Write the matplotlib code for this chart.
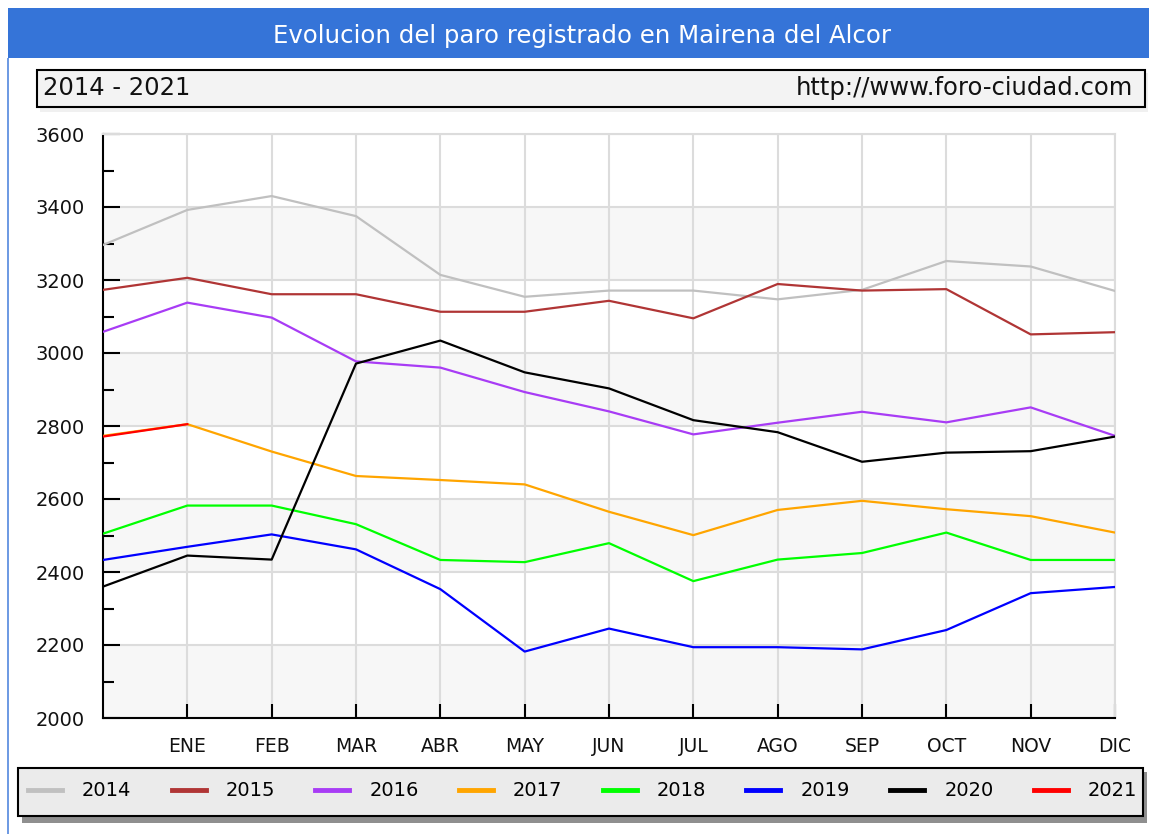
import numpy as np
import matplotlib.pyplot as plt
from matplotlib.patches import Rectangle
from matplotlib.lines import Line2D

# meses (el primer punto es diciembre del año anterior)
months = ['', 'ENE', 'FEB', 'MAR', 'ABR', 'MAY', 'JUN', 'JUL', 'AGO', 'SEP', 'OCT', 'NOV', 'DIC']
years = ['2014', '2015', '2016', '2017', '2018', '2019', '2020', '2021']
colors = ['#c0c0c0', '#b03535', '#a83cf5', '#ffa500', '#00ff00', '#0000ff', '#000000', '#ff0000']

paro_2014 = [3296, 3392, 3430, 3375, 3214, 3154, 3171, 3171, 3147, 3173, 3252, 3237, 3170]
paro_2015 = [3173, 3206, 3161, 3161, 3113, 3113, 3143, 3095, 3189, 3171, 3175, 3051, 3057]
paro_2016 = [3058, 3138, 3097, 2977, 2960, 2893, 2840, 2777, 2809, 2839, 2810, 2851, 2773]
paro_2017 = [2773, 2805, 2730, 2663, 2652, 2640, 2565, 2501, 2570, 2595, 2572, 2553, 2508]
paro_2018 = [2505, 2582, 2582, 2531, 2433, 2427, 2479, 2375, 2434, 2452, 2508, 2433, 2433]
paro_2019 = [2433, 2469, 2503, 2462, 2353, 2182, 2245, 2194, 2194, 2188, 2241, 2342, 2359]
paro_2020 = [2360, 2445, 2434, 2971, 3034, 2947, 2903, 2816, 2783, 2702, 2727, 2731, 2771]
paro_2021 = [2771, 2805]
series = [paro_2014, paro_2015, paro_2016, paro_2017, paro_2018, paro_2019, paro_2020, paro_2021]

W, H = 1149, 834
fig = plt.figure(figsize=(W / 100, H / 100), dpi=100)


def px_box(x0, y0, x1, y1, **kw):
    # rectangulo en pixeles, origen arriba a la izquierda
    r = Rectangle((x0 / W, 1 - y1 / H), (x1 - x0) / W, (y1 - y0) / H,
                  transform=fig.transFigure, **kw)
    fig.add_artist(r)


# cabecera azul
px_box(8, 8, W, 58, facecolor='#3574d8', edgecolor='none')
px_box(7, 58, 9, H, facecolor='#6f9be3', edgecolor='none')
fig.text(582 / W, 1 - 36 / H, 'Evolucion del paro registrado en Mairena del Alcor',
         color='white', fontsize=17.6, ha='center', va='center')

# caja del subtitulo
px_box(40, 73, 1148, 112, facecolor='#f0f0f0', edgecolor='none')
px_box(37, 70, 1145, 107, facecolor='#f3f3f3', edgecolor='black', linewidth=1.5)
fig.text(43 / W, 1 - 88 / H, '2014 - 2021', fontsize=17.5, ha='left', va='center', color='#111111')
fig.text(1133 / W, 1 - 88 / H, 'http://www.foro-ciudad.com', fontsize=17.5, ha='right', va='center',
         color='#111111')

ax = fig.add_axes([103 / W, 1 - 718 / H, 1012 / W, 584 / H])
for lo in (2000, 2400, 2800, 3200):
    ax.axhspan(lo, lo + 200, color='#f7f7f7', zorder=0, lw=0)

for yr, vals, col in zip(years, series, colors):
    ax.plot(np.arange(len(vals)), vals, color=col, lw=1.6, label=yr, zorder=3)

ax.set_xlim(0, 12)
ax.set_ylim(2000, 3600)
ax.set_xticks(range(1, 13))
ax.set_xticklabels(months[1:])
ax.set_yticks(range(2000, 3601, 200))
ax.set_yticks(range(2100, 3600, 200), minor=True)
ax.grid(True, which='major', color='#dcdcdc', lw=1.5, zorder=1)
ax.set_axisbelow(True)
ax.tick_params(axis='x', direction='in', length=10, width=1.5, pad=13.5, labelsize=13.5,
               labelcolor='#111111')
ax.tick_params(axis='y', which='major', direction='in', length=12, width=1.5, pad=13,
               labelsize=14, labelcolor='#111111')
ax.tick_params(axis='y', which='minor', direction='in', length=8, width=1.5)
for s in ('left', 'bottom'):
    ax.spines[s].set_color('black')
    ax.spines[s].set_linewidth(1.5)
for s in ('top', 'right'):
    ax.spines[s].set_color('#dcdcdc')
    ax.spines[s].set_linewidth(1.5)

# leyenda
px_box(22, 772, 1147, 823, facecolor='#8f8f8f', edgecolor='none')
px_box(18, 768, 1143, 816, facecolor='#ebebeb', edgecolor='black', linewidth=1.5)
handles = [Line2D([], [], color=c, lw=3.5) for c in colors]
fig.legend(handles, years, loc='center', bbox_to_anchor=(582.5 / W, 1 - 791 / H), ncol=8,
           frameon=False, fontsize=14, handlelength=1.75, handletextpad=1.03,
           columnspacing=2.07, borderaxespad=0)

fig.savefig('out.png', dpi=100)
